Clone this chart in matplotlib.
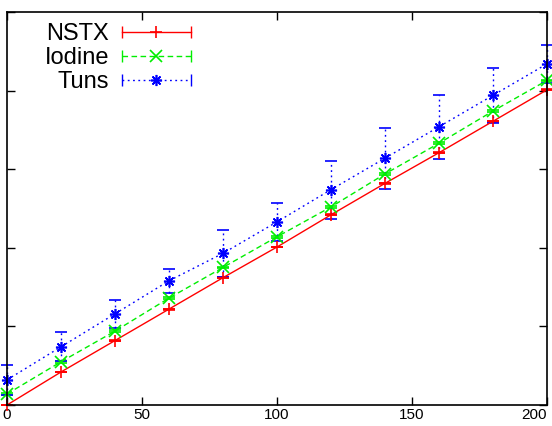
import matplotlib
matplotlib.use('Agg')
import matplotlib.pyplot as plt
from matplotlib.lines import Line2D
from matplotlib.legend_handler import HandlerLine2D, HandlerTuple

# du lieu doc tu hinh
x = [0, 20, 40, 60, 80, 100, 120, 140, 160, 180, 200]
nstx = [0, 21, 41, 61, 81, 100.5, 121, 141, 160.5, 180.5, 200.5]
nstx_err = [0.3] * 11
iodine = [7, 27.5, 47, 68, 87.5, 107, 126, 147, 166.5, 187, 206.5]
iodine_err = [0.5] * 11
tuns = [16, 37, 58, 79, 96.5, 116.5, 137, 157, 177, 197, 217]
tuns_err = [9.5, 9.2, 9, 7.5, 15, 12.3, 18.4, 19.5, 20.5, 17.6, 12.3]
labels = ['NSTX', 'Iodine', 'Tuns']
xticks = [0, 50, 100, 150, 200]

plt.rcParams['font.family'] = ['Liberation Sans', 'DejaVu Sans']

fig = plt.figure(figsize=(5.52, 4.26), dpi=100)
ax = fig.add_axes([7 / 552, 21 / 426, 540 / 552, 393 / 426])

styles = [
    ('#ff0000', '-', '+', nstx, nstx_err),
    ('#00ee00', (0, (4, 2.5)), 'x', iodine, iodine_err),
    ('#0000ff', (0, (1.3, 2.5)), (8, 2, 0), tuns, tuns_err),
]

handles = []
for (color, ls, mk, y, err), lab in zip(styles, labels):
    eb = ax.errorbar(x, y, yerr=err, color=color, linestyle=ls, lw=1,
                     marker=mk, markersize=8, mew=1.2, capsize=4,
                     elinewidth=1, capthick=0.8, clip_on=False)
    eb[2][0].set_linestyle(ls)
    # legend kieu gnuplot: |---+---|
    caps = Line2D([], [], color=color, linestyle=ls, lw=1, marker='|',
                  markersize=8, mew=1)
    mid = Line2D([], [], color=color, linestyle='none', marker=mk,
                 markersize=8, mew=1.2)
    handles.append((caps, mid))

hmap = {tuple: HandlerTuple(ndivide=1)}
for caps, mid in handles:
    hmap[caps] = HandlerLine2D(numpoints=2, marker_pad=0)
    hmap[mid] = HandlerLine2D(numpoints=1)

leg = ax.legend(handles, labels, handler_map=hmap,
                loc='upper right', bbox_to_anchor=(190.5 / 552, 403 / 426),
                bbox_transform=fig.transFigure, frameon=False,
                markerfirst=False, fontsize=17, handlelength=2.9,
                handletextpad=0.55, labelspacing=0.08, borderpad=0,
                borderaxespad=0)

ax.set_xlim(0, 200)
ax.set_ylim(0, 250)
ax.set_xticks(xticks)
ax.set_yticks([0, 50, 100, 150, 200, 250])
ax.tick_params(direction='in', length=6, width=1, top=True, right=True,
               labelsize=11, pad=2, labelleft=False)
# nhan cuoi cung sat mep phai
ax.get_xticklabels()[-1].set_ha('right')
for s in ax.spines.values():
    s.set_linewidth(1.2)

plt.savefig('out.png', dpi=100)
